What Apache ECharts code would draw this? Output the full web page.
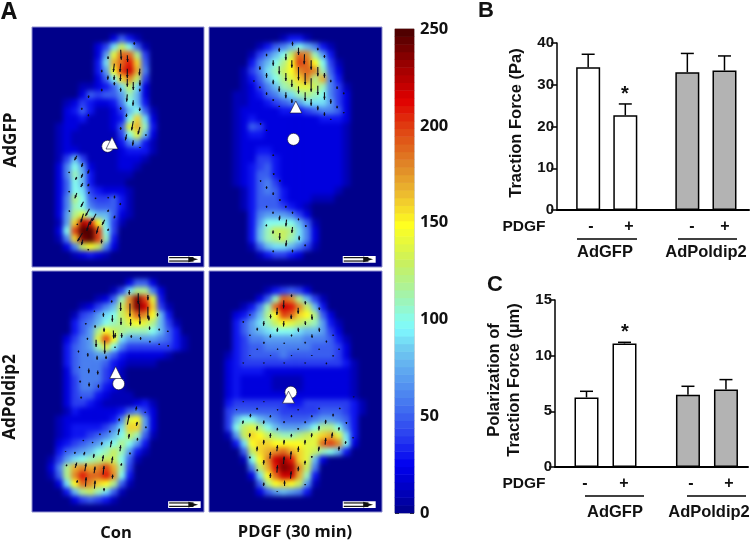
<!DOCTYPE html>
<html><head><meta charset="utf-8">
<style>
html,body{margin:0;padding:0;background:#fff;width:750px;height:543px;overflow:hidden}
#clip{position:absolute;left:0;top:0;width:750px;height:543px;clip-path:path('M32 27H204V267H32Z M209 27H382V267H209Z M32 271H204V512H32Z M209 271H382V512H209Z')}
#heat{position:absolute;left:0;top:0;width:750px;height:543px;filter:blur(2.6px)}
#main{position:absolute;left:0;top:0;width:750px;height:543px}
</style>
<script src="https://cdn.jsdelivr.net/npm/echarts@6/dist/echarts.min.js"></script>
</head><body>
<div id="clip"><div id="heat"></div></div>
<div id="main"></div>
<script>
// Force level per cell: base-36 digit x 10 (0..250)
const heatAdGFPCon = ["","00000000002531","00000000249da51","0000000027ejjc4","0000000039hjlg5","0000000037fkmh6","0000000025agid4","000000112359d92","000000254557b82","000012432236a83","0000235311248a51","000022311123ag92","000122111125ehb3","000121111114ae82","0001211111136731","0001221111123331","000148411112221","00026a72111221","00026b8311111","00025a831111","00025a9432221","00026ca544531","00026ba655531","00027cea88521","00017gnlf941","0002akppka4","00016gopkb3","000026dfd62","0000012321",""];
const heatAdGFPPDGF = ["","0000000001331","00000013568a8631","000001468adjib73","00000368acfkjfa41","00001469bdfijib52","00001358acegich63","000012468bceedb641","00011235689bcba642","000112234567999742","000122222333456652","000123222222223332","000125422222222221","000123322222222221","000122222222222221","000122332222222221","000122443222222221","000123453222222221","000123553222222221","000123564222222221","00001356532222221","0000135553222111","0000135554321","0000036777642","0000037aaaa851","0000038bddc962","0000038bcdb962","00000158998641","000000134432",""];
const heatPoldipCon = ["","0000000000002552","0000000000149cc62","00000000125bioke3","00000012468diomg41","0000014579adgjif83","000003568abcefec841","00000357cfdcbbba853","00002467ekf977776531","00003567bea644444431","000035667753222221","0000356665321111","000025666431","000024666431","000024665321","0000245532111","0000244321111231","0000132222235642","000122222236ef72","000123333469gg72","00012334568adb51","0002345679aca73","00035678abdb731","001479abcdda51","0026chihikhb4","0015ciljjlia3","00029fjigfc51","000038cdb951","00000245431",""];
const heatPoldipPDGF = ["","","0000000134542","00000025bjic841","0000136bjmlid83","0002358cfkjgfc52","0003579bdfedcb731","00035789aaa988742","000346677777666531","000345566666655542","001345555655555542","00234444444444444 31".replace(" ",""),"002333322222222222 1".replace(" ",""),"002322221111222222 1".replace(" ",""),"002322221111222222 1".replace(" ",""),"002322222222222222 1".replace(" ",""),"00344444443344444431","00455555544444555431","0048aa8765555677653","004adeca87778acca63","0017dgfdcbbcdeghe93","00039fggffffeejkia2","00005dghijhgedba83","00001afimnlge82","000006dhlonid6","0000029fjmmhb3","0000005cfgfd71","0000002578763","",""];
const heatPanels = [heatAdGFPCon, heatAdGFPPDGF, heatPoldipCon, heatPoldipPDGF];

const colorStops = ['#00008a','#0000c0','#0000f0','#2a3ef0','#4a80f0','#6fc8f0','#80ffff','#a0f4b0','#c8f060','#ffff20','#eec030','#e08a28','#e04a14','#e00000','#a00000','#500000'];
const stopValues = [0,12,25,40,60,85,97,112,130,150,165,180,198,215,232,250];
const colorBands = [2,6,10,14,18,22,26,30,34,38,42,46,50,54,58,62,66,70,74,78,82,86,90,94,98,102,106,110,114,118,122,126,130,134,138,142,146,150,154,158,162,166,170,174,178,182,186,190,194,198,202,206,210,214,218,222,226,230,234,238,242,246,250];

// arrows: [x, y, dx, dy], in 3x crop units
const arrowsP1 = [[403,125,0,8],[362,148,2,30],[324,168,0,8],[382,165,1,20],[343,190,-3,25],[362,190,-2,25],[382,205,0,28],[420,205,-2,20],[305,208,0,8],[324,226,-1,12],[343,225,-1,14],[362,222,-1,20],[382,235,0,24],[400,245,0,24],[420,240,0,16],[305,265,0,8],[343,245,0,10],[362,262,0,12],[382,282,-2,22],[400,300,-1,16],[420,265,-1,8],[266,285,-1,8],[420,322,-1,10],[380,340,-1,10],[362,320,0,8],[245,322,0,6],[265,342,0,6],[400,362,-5,28],[420,380,-6,22],[362,380,0,8],[380,402,-4,18],[438,402,0,4],[400,420,-2,16],[420,440,0,3],[230,466,-7,14],[248,488,-4,12],[267,508,-4,12],[208,514,-2,4],[248,520,-5,12],[230,530,-4,8],[248,548,-6,12],[267,550,-4,8],[208,572,-2,4],[230,578,-6,16],[268,574,-3,6],[288,592,-3,4],[250,604,-8,16],[325,590,-1,4],[344,586,-1,8],[362,608,-2,6],[268,625,-12,22],[326,628,-3,6],[208,630,-1,4],[288,640,-12,22],[250,640,-8,26],[345,646,-3,8],[314,658,-8,16],[275,654,-6,20],[232,670,-1,4],[268,664,-8,28],[295,678,-6,22],[326,685,-3,6],[247,698,-15,25],[248,718,-4,16],[305,717,-1,12],[265,746,-1,4]];
const arrowsP2 = [[278,124,0,12],[238,142,0,12],[296,142,0,22],[354,142,0,8],[200,160,0,8],[258,160,0,20],[314,162,-1,30],[374,164,0,8],[220,180,0,16],[276,180,0,22],[334,180,0,28],[354,200,0,28],[180,198,0,10],[238,198,0,24],[296,200,0,40],[374,218,0,14],[200,218,0,14],[258,218,0,24],[316,218,0,36],[393,238,0,8],[220,238,0,14],[276,238,0,22],[334,234,0,40],[354,256,0,28],[162,240,0,4],[180,258,0,6],[238,258,0,16],[296,258,0,22],[374,276,0,22],[412,258,0,8],[200,276,0,8],[258,276,0,18],[316,276,0,26],[432,276,0,6],[220,296,0,6],[276,296,0,12],[334,296,0,20],[393,296,0,14],[238,316,0,4],[354,316,0,14],[412,316,0,8],[432,335,0,4],[374,336,0,10],[393,355,0,4],[182,368,0,5],[200,388,0,4],[220,462,0,5],[222,518,-1,6],[240,538,0,6],[182,540,0,4],[200,558,0,7],[220,576,0,8],[240,596,0,6],[200,616,0,6],[220,634,-1,6],[258,616,0,6],[278,634,0,6],[240,646,-2,14],[260,658,-2,20],[296,654,0,6],[200,672,-1,6],[278,680,-2,18],[318,674,0,6],[220,690,-1,10],[240,698,-1,20],[298,706,0,14],[260,720,-2,18],[316,732,0,6],[220,750,0,6],[278,748,0,8]];
const arrowsP3 = [[388,75,0,14],[415,85,0,32],[444,90,0,16],[335,106,0,6],[362,112,0,26],[390,115,0,40],[418,115,0,42],[444,125,0,36],[283,136,0,4],[310,143,0,12],[337,150,0,20],[363,158,0,22],[392,162,0,20],[420,154,0,24],[447,152,0,14],[473,144,0,10],[257,174,0,4],[285,180,0,8],[312,188,0,12],[340,196,1,24],[365,204,0,14],[394,210,0,8],[422,216,0,8],[449,184,0,10],[478,190,0,6],[504,196,0,5],[262,218,0,6],[288,224,0,22],[314,226,0,40],[346,204,-1,14],[450,227,0,5],[478,235,0,5],[505,240,0,4],[235,256,0,6],[263,264,0,10],[291,272,0,12],[318,272,0,10],[345,244,0,4],[238,304,0,5],[266,310,0,14],[293,316,0,12],[240,346,0,6],[267,352,0,12],[295,358,0,10],[243,394,0,6]];
const arrowsP3Up = [[410,424,-2,12],[388,448,-6,30],[436,440,0,3],[358,460,-1,8],[412,470,-3,12],[438,484,0,5],[330,496,-1,6],[358,490,-4,20],[388,506,-2,14],[413,518,-1,8],[300,505,-1,5],[335,526,-4,20],[362,540,-2,18],[306,530,-2,10],[278,530,-1,4],[250,524,-1,4],[196,558,0,2],[225,560,-2,6],[254,560,-3,10],[282,566,-2,12],[310,570,-3,18],[338,574,-3,20],[390,562,0,6],[200,598,-2,5],[230,592,-5,16],[258,594,-4,24],[285,604,-3,20],[312,602,-3,26],[365,594,-2,8],[338,628,-1,12],[232,645,-2,8],[258,636,-2,28],[285,646,-2,24],[312,668,0,10]];
const arrowsP4 = [[275,88,0,8],[316,108,1,10],[252,106,-1,24],[358,127,1,8],[232,128,-1,22],[295,128,0,18],[150,148,0,3],[212,148,0,12],[274,148,0,14],[336,148,1,16],[130,168,0,5],[192,168,-1,14],[252,168,-1,16],[316,168,1,12],[172,188,0,8],[233,188,-1,12],[295,188,1,12],[358,188,1,12],[150,208,0,4],[212,208,-1,10],[275,208,0,6],[336,208,1,10],[400,208,0,4],[192,230,0,6],[253,232,0,4],[316,230,0,5],[380,226,0,6],[172,250,0,4],[233,250,0,4],[295,250,0,4],[358,250,0,4],[418,250,0,4],[150,270,0,3],[212,270,0,3],[275,270,0,3],[336,270,0,3],[400,270,0,4],[130,292,0,3],[192,292,0,3],[253,292,0,3],[316,292,0,3],[380,292,0,5]];
const arrowsP4Up = [[130,408,0,3],[192,408,0,3],[462,394,0,3],[110,432,0,3],[172,428,-1,6],[233,432,0,4],[295,432,0,4],[358,428,0,5],[420,428,0,4],[152,446,-1,10],[212,450,-1,7],[275,450,0,6],[336,450,0,6],[400,446,0,8],[130,466,-2,10],[192,466,-1,10],[253,468,-1,6],[316,468,0,6],[378,464,-1,12],[440,470,0,6],[172,482,-1,14],[233,488,-1,8],[295,488,0,6],[358,482,-1,14],[418,486,-1,10],[150,504,-1,12],[212,504,-1,14],[275,506,-1,10],[336,504,-1,12],[398,502,-2,16],[460,516,0,4],[192,524,-1,14],[253,524,-1,14],[316,524,-1,14],[378,518,-2,20],[438,528,-1,8],[172,544,-1,14],[233,540,-2,18],[296,544,-1,16],[358,544,-2,14],[418,544,-1,12],[150,574,0,6],[212,560,-2,20],[274,558,-2,24],[336,572,0,6],[192,584,-1,14],[253,574,-2,22],[316,586,-1,12],[172,612,0,6],[233,600,-2,22],[296,604,-1,14],[212,624,-1,14],[274,618,-2,22],[192,652,-1,10],[254,646,0,16],[316,656,0,4],[232,678,0,2]];
const circles = [[323,438],[281,417],[356,356],[273,381]];
const triangles = [[336,428],[288,320],[347,322],[266,396]];
const scaleBars = [[505,767,603,787],[429,767,528,787],[505,708,603,728],[429,708,528,728]];

const tractionValues = [34.2,22.7,33.0,33.4];
const tractionTops = [37.3,25.4,37.5,36.9];
const polarValues = [6.25,11.1,6.5,6.95];
const polarTops = [6.8,11.2,7.25,7.85];
const barSlots = [1,2,3.67,4.67];
const barColors = ['#ffffff','#ffffff','#b3b3b3','#b3b3b3'];
const pdgfTicks = ['-','+','-','+'];
const colorbarTicks = [0,50,100,150,200,250];

const panelRects = [{left:32,top:27,width:172,height:240},{left:209,top:27,width:173,height:240},{left:32,top:271,width:172,height:241},{left:209,top:271,width:173,height:241}];
const panelRanges = [[95,613,80,800],[27,547,80,800],[95,613,18,740],[27,547,18,740]];

// ---------- blurred force maps ----------
const cols = Array.from({length:22},(_,i)=>i), rows = Array.from({length:30},(_,i)=>i);
function decode(p){const out=[];rows.forEach(r=>{const s=(p[r]||'').padEnd(22,'0');cols.forEach(c=>out.push([c,r,parseInt(s[c],36)*10]));});return out;}
function hex(c){return [1,3,5].map(i=>parseInt(c.substr(i,2),16));}
function colorAt(v){let i=0;while(i<stopValues.length-2&&v>stopValues[i+1])i++;const t=(v-stopValues[i])/(stopValues[i+1]-stopValues[i]);const a=hex(colorStops[i]),b=hex(colorStops[i+1]);return 'rgb('+a.map((x,k)=>Math.round(x+(b[k]-x)*t)).join(',')+')';}
function stopsToRamp(){const r=[];for(let v=0;v<=250;v+=5)r.push(colorAt(v));return r;}
const heatChart = echarts.init(document.getElementById('heat'),null,{renderer:'canvas'});
heatChart.setOption({
  animation:false, backgroundColor:colorStops[0],
  grid:panelRects,
  xAxis:panelRects.map((_,i)=>({type:'category',gridIndex:i,data:cols,show:false})),
  yAxis:panelRects.map((_,i)=>({type:'category',gridIndex:i,data:rows,inverse:true,show:false})),
  visualMap:{show:false,type:'continuous',min:0,max:250,dimension:2,inRange:{color:stopsToRamp()}},
  series:heatPanels.map((p,i)=>({type:'heatmap',xAxisIndex:i,yAxisIndex:i,progressive:0,data:decode(p),itemStyle:{borderWidth:0}}))
});

// ---------- main figure ----------
const chart = echarts.init(document.getElementById('main'),null,{renderer:'canvas'});
const grids=[],xAxes=[],yAxes=[],series=[];
panelRects.forEach((r,i)=>{
  grids.push(Object.assign({show:true,borderColor:'#8f8fd0',borderWidth:1,backgroundColor:'transparent'},r));
  xAxes.push({type:'value',gridIndex:i,min:panelRanges[i][0],max:panelRanges[i][1],show:false});
  yAxes.push({type:'value',gridIndex:i,min:panelRanges[i][2],max:panelRanges[i][3],inverse:true,show:false});
});
function renderArrow(params,api){
  const x=api.value(0),y=api.value(1),dx=api.value(2),dy=api.value(3);
  const a=api.coord([x,y]),b=api.coord([x+dx,y+dy]);
  const L=Math.hypot(b[0]-a[0],b[1]-a[1])||1,ux=(b[0]-a[0])/L,uy=(b[1]-a[1])/L;
  const h=Math.min(3,L*0.6),w=1.2;
  return {type:'group',children:[
    {type:'line',shape:{x1:a[0],y1:a[1],x2:b[0],y2:b[1]},style:{stroke:'#10101a',lineWidth:1.1}},
    {type:'polygon',shape:{points:[[b[0],b[1]],[b[0]-ux*h-uy*w,b[1]-uy*h+ux*w],[b[0]-ux*h+uy*w,b[1]-uy*h-ux*w]]},style:{fill:'#10101a'}}
  ]};
}
const flip = l=>l.map(d=>[d[0]+d[2],d[1]+d[3],-d[2],-d[3]]);
[arrowsP1,arrowsP2,arrowsP3.concat(flip(arrowsP3Up)),arrowsP4.concat(flip(arrowsP4Up))].forEach((d,i)=>{
  series.push({type:'custom',xAxisIndex:i,yAxisIndex:i,data:d,renderItem:renderArrow,clip:true,silent:true});
});
panelRects.forEach((_,i)=>{
  series.push({type:'custom',xAxisIndex:i,yAxisIndex:i,data:[scaleBars[i]],silent:true,renderItem(p,api){
    const a=api.coord([api.value(0),api.value(1)]),b=api.coord([api.value(2),api.value(3)]);
    const w=b[0]-a[0],h=b[1]-a[1],my=(a[1]+b[1])/2;
    return {type:'group',children:[
      {type:'rect',shape:{x:a[0],y:a[1],width:w,height:h},style:{fill:'#fff'}},
      {type:'line',shape:{x1:a[0]+1,y1:my-1.7,x2:a[0]+w*0.78,y2:my-1.7},style:{stroke:'#111',lineWidth:1.2}},
      {type:'line',shape:{x1:a[0]+1,y1:my+1.7,x2:a[0]+w*0.78,y2:my+1.7},style:{stroke:'#111',lineWidth:1.2}},
      {type:'polygon',shape:{points:[[a[0]+w*0.62,my-2.8],[a[0]+w*0.92,my],[a[0]+w*0.62,my+2.8]]},style:{fill:'#111'}}
    ]};
  }});
  series.push({type:'scatter',xAxisIndex:i,yAxisIndex:i,data:[circles[i]],symbol:'circle',symbolSize:12,silent:true,
    itemStyle:{color:'#fff',opacity:1,borderColor:'#111133',borderWidth:0.6},z:4});
  series.push({type:'scatter',xAxisIndex:i,yAxisIndex:i,data:[triangles[i]],symbol:'triangle',symbolSize:12,silent:true,
    itemStyle:{color:'#fff',opacity:1,borderColor:'#111133',borderWidth:0.6},z:5});
});
// colour bar
grids.push({left:395,top:29,width:19,height:484,show:true,borderColor:'#a8a8a8',borderWidth:1,backgroundColor:'transparent'});
xAxes.push({type:'category',gridIndex:4,data:['k'],show:false});
yAxes.push({type:'category',gridIndex:4,data:colorBands.map(String),show:false});
yAxes.push({type:'value',gridIndex:4,min:0,max:250,interval:50,position:'right',splitLine:{show:false},axisLine:{show:false},
  axisTick:{show:true,inside:true,length:4,lineStyle:{color:'#333',width:1}},
  axisLabel:{show:true,margin:6,color:'#111',fontFamily:'Open Sans',fontWeight:'bold',fontSize:16.5,customValues:colorbarTicks}});
yAxes.push({type:'value',gridIndex:4,min:0,max:250,interval:50,position:'left',splitLine:{show:false},axisLine:{show:false},
  axisTick:{show:true,inside:true,length:4,lineStyle:{color:'#333',width:1}},axisLabel:{show:false}});
const cbIndex=series.length;
series.push({type:'heatmap',xAxisIndex:4,yAxisIndex:4,progressive:0,silent:true,data:colorBands.map((v,i)=>[0,i,v])});

function addBars(rect,xMin,xMax,yMax,yInt,vals,tops,barW){
  const gi=grids.length;
  grids.push(rect);
  xAxes.push({type:'value',gridIndex:gi,min:xMin,max:xMax,axisLabel:{show:false},axisTick:{show:false},splitLine:{show:false},
    axisLine:{show:true,onZero:false,lineStyle:{color:'#000',width:2}}});
  yAxes.push({type:'value',gridIndex:gi,min:0,max:yMax,interval:yInt,splitLine:{show:false},
    axisLine:{show:true,lineStyle:{color:'#000',width:1.5}},axisTick:{show:true,length:6,lineStyle:{color:'#000',width:1.5}},
    axisLabel:{color:'#111',fontFamily:'Liberation Sans',fontWeight:'bold',fontSize:15,margin:3}});
  const xi=xAxes.length-1, yi=yAxes.length-1;
  series.push({type:'custom',xAxisIndex:xi,yAxisIndex:yi,silent:true,z:2,
    data:barSlots.map((s,i)=>[s,vals[i],tops[i]]),renderItem(p,api){
      const c=api.coord([api.value(0),api.value(1)]),t=api.coord([api.value(0),api.value(2)]);
      return {type:'group',children:[
        {type:'line',shape:{x1:c[0],y1:c[1],x2:c[0],y2:t[1]},style:{stroke:'#000',lineWidth:1.5}},
        {type:'line',shape:{x1:c[0]-6.5,y1:t[1],x2:c[0]+6.5,y2:t[1]},style:{stroke:'#000',lineWidth:1.5}}
      ]};
    }});
  series.push({type:'bar',xAxisIndex:xi,yAxisIndex:yi,barWidth:barW,silent:true,z:3,
    data:barSlots.map((s,i)=>({value:[s,vals[i]],itemStyle:{color:barColors[i],borderColor:'#000',borderWidth:1.5}}))});
}
addBars({left:557,top:43,width:192,height:167},0.161,5.33,40,10,tractionValues,tractionTops,24);
addBars({left:555,top:300,width:193,height:167},0.171,5.25,15,5,polarValues,polarTops,24);

const txt=(x,y,s,size,fam)=>({type:'text',x,y,silent:true,style:{text:s,fill:'#111',font:'bold '+size+'px "'+fam+'"',textAlign:'center',textVerticalAlign:'middle'}});
const rot=(x,y,s,size,fam)=>({type:'text',x,y,rotation:Math.PI/2,silent:true,style:{text:s,fill:'#111',font:'bold '+size+'px "'+fam+'"',textAlign:'center',textVerticalAlign:'middle'}});
const ls='Liberation Sans', la='Open Sans';
const line=(x1,x2,y)=>({type:'line',silent:true,shape:{x1,y1:y,x2,y2:y},style:{stroke:'#000',lineWidth:1.6}});
const graphic=[
  txt(9,12,'A',23,la),txt(486,11,'B',22,ls),txt(495,285,'C',22,ls),
  rot(11,140,'AdGFP',17,la),rot(10,397,'AdPoldip2',17,la),
  txt(116,533,'Con',16.5,la),txt(295,532,'PDGF (30 min)',16.5,la),
  rot(516,123,'Traction Force (Pa)',16.5,ls),
  rot(494,380,'Polarization of',16.5,ls),rot(514,380,'Traction Force (\u00b5m)',16.5,ls),
  txt(524,227,'PDGF',15.5,ls),txt(524,484,'PDGF',15.5,ls),
  txt(591,227,pdgfTicks[0],16,ls),txt(629,227,pdgfTicks[1],16,ls),txt(692,227,pdgfTicks[2],16,ls),txt(725,227,pdgfTicks[3],16,ls),
  txt(585,484,pdgfTicks[0],16,ls),txt(624,484,pdgfTicks[1],16,ls),txt(691,484,pdgfTicks[2],16,ls),txt(729,484,pdgfTicks[3],16,ls),
  line(577,637,239),line(678,737,239),line(585,644,496),line(687,746,496),
  txt(605,252,'AdGFP',16.5,ls),txt(706,252,'AdPoldip2',16.5,ls),
  txt(615,512,'AdGFP',16.5,ls),txt(709,512,'AdPoldip2',16.5,ls),
  txt(625,94,'*',20,ls),txt(625,332,'*',20,ls)
];
chart.setOption({
  animation:false,backgroundColor:'transparent',
  grid:grids,xAxis:xAxes,yAxis:yAxes,series,graphic:{elements:graphic},
  visualMap:{show:false,type:'continuous',min:0,max:250,dimension:2,seriesIndex:cbIndex,inRange:{color:stopsToRamp()}}
});
</script>
</body></html>
